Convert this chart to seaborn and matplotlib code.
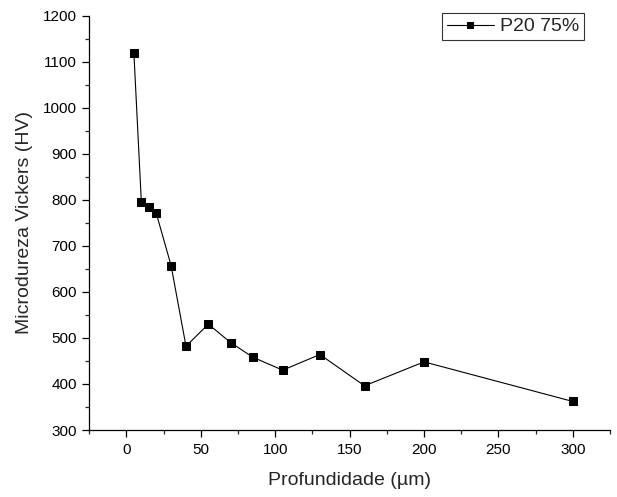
import matplotlib
matplotlib.use("Agg")
import matplotlib.pyplot as plt
import seaborn as sns
import pandas as pd
from matplotlib.ticker import MultipleLocator

# Depth profile of Vickers microhardness
depth_um = [5, 10, 15, 20, 30, 40, 55, 70, 85, 105, 130, 160, 200, 300]
hardness_hv = [1118, 795, 784, 771, 657, 482, 530, 490, 458, 430, 464, 396, 448, 362]
series_name = "P20 75%"

df = pd.DataFrame({"depth": depth_um, "hv": hardness_hv})

sns.set_style("ticks")
plt.rcParams["font.family"] = ["Liberation Sans", "DejaVu Sans"]

fig = plt.figure(figsize=(6.17, 4.97), dpi=100)
ax = fig.add_axes([0.1447, 0.1348, 0.844, 0.8336])

sns.lineplot(data=df, x="depth", y="hv", marker="s", markersize=6,
             color="black", linewidth=0.8, markeredgecolor="black",
             label=series_name, ax=ax, sort=False)

ax.set_xlim(-25, 325)
ax.set_ylim(300, 1200)
ax.xaxis.set_major_locator(MultipleLocator(50))
ax.xaxis.set_minor_locator(MultipleLocator(25))
ax.yaxis.set_major_locator(MultipleLocator(100))
ax.yaxis.set_minor_locator(MultipleLocator(50))
ax.tick_params(which="major", direction="out", length=5, width=0.9, labelsize=11,
               colors="black", pad=4)
ax.tick_params(which="minor", direction="out", length=3, width=0.9)

for side in ["top", "right"]:
    ax.spines[side].set_visible(False)
for side in ["left", "bottom"]:
    ax.spines[side].set_linewidth(0.9)
    ax.spines[side].set_color("black")

ax.set_xlabel("Profundidade (µm)", fontsize=14, labelpad=11)
ax.set_ylabel("Microdureza Vickers (HV)", fontsize=14, labelpad=7)

leg = ax.legend(loc="upper right", bbox_to_anchor=(0.968, 1.03), fontsize=14,
                frameon=True, fancybox=False, handlelength=2.4, handletextpad=0.3,
                borderpad=0.25, markerscale=0.8)
leg.get_frame().set_edgecolor("black")
leg.get_frame().set_linewidth(0.8)

plt.savefig("out.png", dpi=100)
